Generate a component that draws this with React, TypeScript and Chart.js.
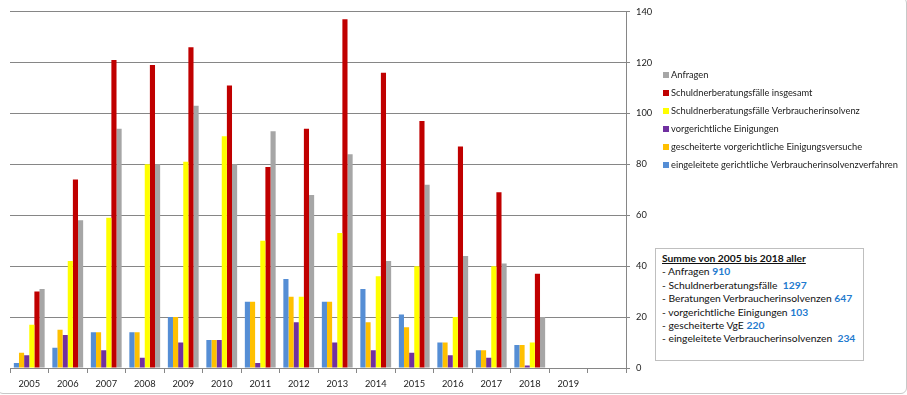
import React, { useEffect, useRef } from "react";
import { Chart, registerables } from "chart.js";

Chart.register(...registerables);

const years = ["2005","2006","2007","2008","2009","2010","2011","2012","2013","2014","2015","2016","2017","2018","2019",""];

const eingeleitete = [2, 8, 14, 14, 20, 11, 26, 35, 26, 31, 21, 10, 7, 9, null, null];
const gescheiterte = [6, 15, 14, 14, 20, 11, 26, 28, 26, 18, 16, 10, 7, 9, null, null];
const vorgerichtliche = [5, 13, 7, 4, 10, 11, 2, 18, 10, 7, 6, 5, 4, 1, null, null];
const verbraucherinsolvenz = [17, 42, 59, 80, 81, 91, 50, 28, 53, 36, 40, 20, 40, 10, null, null];
const insgesamt = [30, 74, 121, 119, 126, 111, 79, 94, 137, 116, 97, 87, 69, 37, null, null];
const anfragen = [31, 58, 94, 80, 103, 80, 93, 68, 84, 42, 72, 44, 41, 20, null, null];

const yTicks = [0, 20, 40, 60, 80, 100, 120, 140];

const FONT = "Lato, 'Open Sans', sans-serif";

const sum = (a: (number | null)[]) => a.reduce((s: number, v) => s + (v ?? 0), 0);

const legendPlugin = {
  id: "sideLegend",
  afterDraw(chart: any) {
    const ctx = chart.ctx;
    const ds = [...chart.data.datasets].reverse();
    ctx.save();
    ctx.font = `9.3px ${FONT}`;
    ctx.textBaseline = "middle";
    ctx.textAlign = "left";
    ds.forEach((d: any, i: number) => {
      const y = 75 + i * 18;
      ctx.fillStyle = d.backgroundColor;
      ctx.fillRect(663, y - 3, 6, 6);
      ctx.fillStyle = "#1a1a1a";
      ctx.fillText(d.label, 671, y);
    });
    ctx.restore();
  },
};

export default function App() {
  const ref = useRef<HTMLCanvasElement | null>(null);

  useEffect(() => {
    if (!ref.current) return;
    const grid = "#868686";
    const chart = new Chart(ref.current, {
      type: "bar",
      data: {
        labels: years,
        datasets: [
          { label: "eingeleitete gerichtliche Verbraucherinsolvenzverfahren", data: eingeleitete, backgroundColor: "#558ED5" },
          { label: "gescheiterte vorgerichtliche Einigungsversuche", data: gescheiterte, backgroundColor: "#FFC000" },
          { label: "vorgerichtliche Einigungen", data: vorgerichtliche, backgroundColor: "#7030A0" },
          { label: "Schuldnerberatungsfälle Verbraucherinsolvenz", data: verbraucherinsolvenz, backgroundColor: "#FFFF00" },
          { label: "Schuldnerberatungsfälle insgesamt", data: insgesamt, backgroundColor: "#C00000" },
          { label: "Anfragen", data: anfragen, backgroundColor: "#A6A6A6" },
        ],
      },
      options: {
        animation: false,
        responsive: false,
        maintainAspectRatio: false,
        layout: { padding: { left: 10, top: 9, right: 0, bottom: 0 } },
        datasets: { bar: { categoryPercentage: 0.8, barPercentage: 1, borderWidth: 0 } },
        plugins: { legend: { display: false }, tooltip: { enabled: false } },
        scales: {
          x: {
            offset: true,
            grid: { display: true, drawOnChartArea: false, drawTicks: true, tickLength: 5, color: grid, offset: true },
            border: { display: true, color: grid },
            ticks: { color: "#1a1a1a", font: { family: FONT, size: 9.3 }, padding: 5, maxRotation: 0, autoSkip: false },
            afterFit: (s: any) => { s.height = 27; },
          },
          y: {
            position: "right",
            min: 0,
            max: 140,
            afterBuildTicks: (s: any) => { s.ticks = yTicks.map((v) => ({ value: v })); },
            grid: { color: grid, tickLength: 4, drawTicks: true },
            border: { display: true, color: grid },
            ticks: { color: "#1a1a1a", font: { family: FONT, size: 9.3 }, padding: 6 },
            afterFit: (s: any) => { s.width = 281; },
          },
        },
      },
      plugins: [legendPlugin],
    });
    return () => chart.destroy();
  }, []);

  const lines: [string, number][] = [
    ["- Anfragen ", sum(anfragen)],
    ["- Schuldnerberatungsfälle\u00a0\u00a0", sum(insgesamt)],
    ["- Beratungen Verbraucherinsolvenzen ", sum(verbraucherinsolvenz)],
    ["- vorgerichtliche Einigungen ", sum(vorgerichtliche)],
    ["- gescheiterte VgE ", sum(gescheiterte)],
    ["- eingeleitete Verbraucherinsolvenzen\u00a0\u00a0", sum(eingeleitete)],
  ];

  return (
    <div style={{ position: "fixed", left: 0, top: 0, width: 907, height: 395, background: "#fff", overflow: "hidden" }}>
      <div style={{ position: "absolute", left: -3, top: -3, width: 910, height: 397, border: "1px solid #c8c8c8", borderRadius: 6, boxSizing: "border-box" }} />
      <canvas ref={ref} width={907} height={395} style={{ position: "absolute", left: 0, top: 0, width: 907, height: 395 }} />
      <div style={{ position: "absolute", left: 655, top: 248, width: 209, height: 113, boxSizing: "border-box", border: "1px solid #bfbfbf", background: "#fff", padding: "3px 0 0 6px", fontFamily: FONT, fontSize: 10.3, lineHeight: "13.4px", color: "#111", whiteSpace: "nowrap" }}>
        <div style={{ fontWeight: "bold", textDecoration: "underline" }}>Summe von 2005 bis 2018 aller</div>
        {lines.map(([t, v], i) => (
          <div key={i}>
            {t}
            <span style={{ color: "#1F7BCF", fontWeight: "bold" }}>{v}</span>
          </div>
        ))}
      </div>
    </div>
  );
}
